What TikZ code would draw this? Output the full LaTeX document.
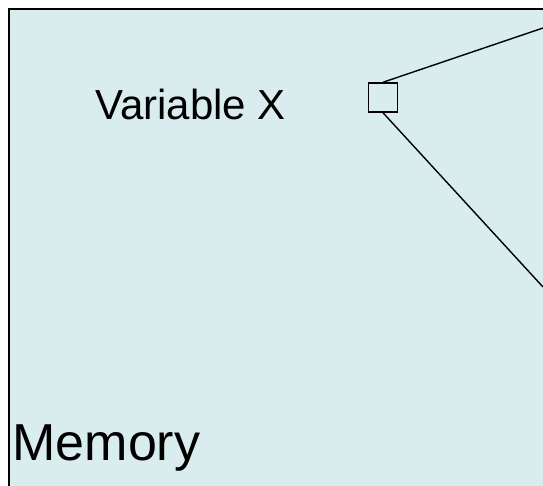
\documentclass[tikz,border=0pt]{standalone}
\usepackage{fontspec}
\setmainfont{Liberation Sans}
\usetikzlibrary{positioning}
\definecolor{memfill}{RGB}{218,237,238}

\begin{document}
\begin{tikzpicture}[x=1pt, y=-1pt]
			\tikzstyle{Memory}	= [draw, line width=2pt, fill=memfill, anchor=north west, minimum width=600pt, minimum height=520pt, inner sep=0pt]
			\tikzstyle{Cell}	= [draw, line width=1.5pt, minimum size=29pt, inner sep=0pt]
			\tikzstyle{Label}	= [anchor=base west, inner sep=0pt]
			\tikzstyle{Link}	= [line width=1.4pt]

			\useasboundingbox (0, 0) rectangle (543, 486);
			\clip (0, 0) rectangle (543, 486);

			\node (mem) at (7.7, 7.7) [Memory] {};
			\node (memname) at (12.3, 460) [Label] {\fontsize{52}{60}\selectfont Memory};
			\node (varname) at (95, 120) [Label] {\fontsize{42}{50}\selectfont Variable X};
			\node (varx) at (383, 97.5) [Cell] {};

			\coordinate (upper) at (543, 28);
			\coordinate (lower) at (543, 287);

			\draw [-] (varx.north) to (upper) [Link];
			\draw [-] (varx.south) to (lower) [Link];
		\end{tikzpicture}
\end{document}
